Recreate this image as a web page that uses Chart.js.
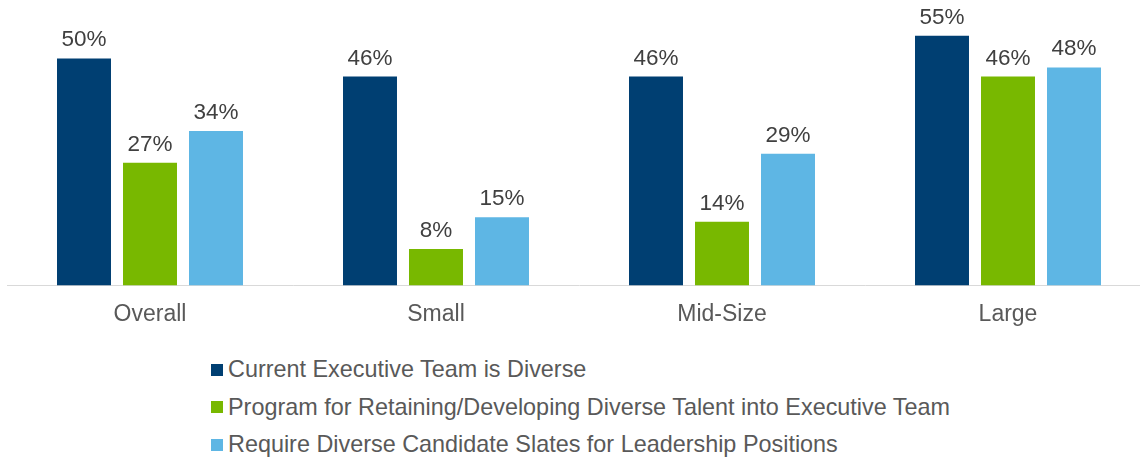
<!DOCTYPE html>
<html>
<head>
<meta charset="utf-8">
<script src="https://cdn.jsdelivr.net/npm/chart.js@4"></script>
<style>
  html, body { margin: 0; padding: 0; background: #fff; overflow: hidden; }
  body { width: 1140px; height: 462px; position: relative; font-family: "Liberation Sans", Arial, sans-serif; }
  #wrap { position: absolute; left: 0; top: 0; width: 1160px; height: 343px; }
  #legend { position: absolute; left: 211px; top: 351px; margin: 0; padding: 0; list-style: none; }
  #legend li { height: 37.5px; display: flex; align-items: center; font-size: 23.4px; color: #595959; white-space: nowrap; }
  #legend span { display: inline-block; width: 12px; height: 12px; margin-right: 5px; }
</style>
</head>
<body>
<div id="wrap"><canvas id="chart"></canvas></div>
<ul id="legend"></ul>
<script>
const categories = ['Overall', 'Small', 'Mid-Size', 'Large'];
const seriesNames = [
  'Current Executive Team is Diverse',
  'Program for Retaining/Developing Diverse Talent into Executive Team',
  'Require Diverse Candidate Slates for Leadership Positions'
];
const currentTeam = [50, 46, 46, 55];
const retainProgram = [27, 8, 14, 46];
const diverseSlates = [34, 15, 29, 48];
const colors = ['#003F72', '#78B800', '#5EB6E4'];

// labels above each bar
const barLabels = {
  id: 'barLabels',
  afterDatasetsDraw(chart) {
    const ctx = chart.ctx;
    ctx.save();
    ctx.font = '22.5px "Liberation Sans", Arial, sans-serif';
    ctx.fillStyle = '#404040';
    ctx.textAlign = 'center';
    ctx.textBaseline = 'bottom';
    chart.data.datasets.forEach((ds, i) => {
      chart.getDatasetMeta(i).data.forEach((bar, j) => {
        ctx.fillText(ds.data[j] + '%', bar.x, bar.y - 7);
      });
    });
    ctx.restore();
  }
};

const chart = new Chart(document.getElementById('chart'), {
  type: 'bar',
  data: {
    labels: categories,
    datasets: [currentTeam, retainProgram, diverseSlates].map((d, i) => ({
      label: seriesNames[i],
      data: d,
      backgroundColor: colors[i],
      borderWidth: 0,
      categoryPercentage: 0.6923,
      barPercentage: 0.818
    }))
  },
  options: {
    responsive: true,
    maintainAspectRatio: false,
    animation: false,
    layout: { padding: { left: 7, right: 9, top: 13, bottom: 0 } },
    plugins: { legend: { display: false }, tooltip: { enabled: false } },
    scales: {
      x: {
        grid: { display: false, drawTicks: false },
        border: { display: true, color: '#D9D9D9', width: 1 },
        ticks: {
          padding: 15,
          color: '#595959',
          font: { family: '"Liberation Sans", Arial, sans-serif', size: 23 }
        }
      },
      y: { display: false, min: 0, max: 60 }
    }
  },
  plugins: [barLabels]
});

const legend = document.getElementById('legend');
chart.data.datasets.forEach(ds => {
  const li = document.createElement('li');
  const box = document.createElement('span');
  box.style.background = ds.backgroundColor;
  li.appendChild(box);
  li.appendChild(document.createTextNode(ds.label));
  legend.appendChild(li);
});
</script>
</body>
</html>
